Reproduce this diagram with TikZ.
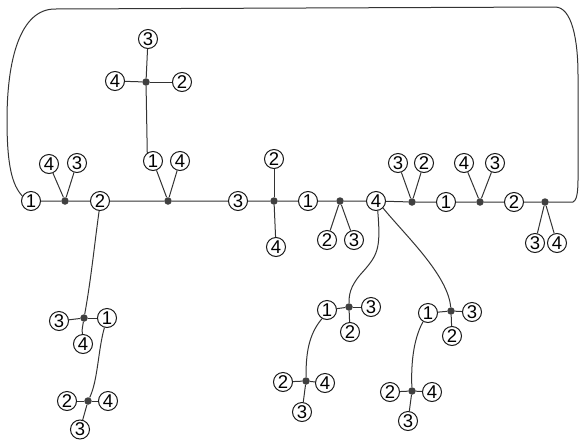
\documentclass[tikz,border=0pt]{standalone}
\usepackage{fontspec}
\setmainfont{Liberation Sans}
\begin{document}
\begin{tikzpicture}[x=1pt,y=-1pt,
  ln/.style={draw=black!80, line width=1pt},
  c/.style={circle, draw=black!90, line width=1pt, fill=white, minimum size=19pt, inner sep=0pt, font=\fontsize{18.5}{18.5}\selectfont},
  hub/.style={circle, fill=black!75, minimum size=7.5pt, inner sep=0pt}]
\useasboundingbox (0,0) rectangle (579,440);
% main line nodes
\node[c] (n1) at (31,201) {1};
\node[hub] (d1) at (65,201) {};
\node[c] (a4) at (49,164) {4};
\node[c] (a3) at (77,163) {3};
\node[c] (n2) at (100,201) {2};
\node[hub] (d2) at (168,201) {};
\node[c] (b1) at (153,161) {1};
\node[c] (b4) at (180,161) {4};
\node[hub] (t) at (146,82) {};
\node[c] (t3) at (148,39) {3};
\node[c] (t4) at (115,81) {4};
\node[c] (t2) at (182,82) {2};
\node[c] (n3) at (238,201) {3};
\node[hub] (d3) at (274,201) {};
\node[c] (c2) at (274,159) {2};
\node[c] (c4) at (276,247) {4};
\node[c] (n4) at (308,201) {1};
\node[hub] (d4) at (340,201) {};
\node[c] (e2) at (327,240) {2};
\node[c] (e3) at (354,240) {3};
\node[c] (n5) at (376,201) {4};
\node[hub] (d5) at (412,202) {};
\node[c] (f3) at (398,163) {3};
\node[c] (f2) at (424,163) {2};
\node[c] (n6) at (446,202) {1};
\node[hub] (d6) at (480,202) {};
\node[c] (g4) at (464,163) {4};
\node[c] (g3) at (495,163) {3};
\node[c] (n7) at (514,202) {2};
\node[hub] (d7) at (545,202) {};
\node[c] (h3) at (535,243) {3};
\node[c] (h4) at (557,243) {4};
\coordinate (e) at (573,202);
% lower left
\node[hub] (L) at (84,318) {};
\node[c] (L3) at (59,321) {3};
\node[c] (L1) at (107,318) {1};
\node[c] (L4) at (83,344) {4};
\node[hub] (M) at (88,401) {};
\node[c] (M2) at (67,401) {2};
\node[c] (M4) at (108,401) {4};
\node[c] (M3) at (80,429.5) {3};
% lower middle
\node[hub] (P) at (349,307) {};
\node[c] (P1) at (327,310) {1};
\node[c] (P3) at (371,307) {3};
\node[c] (P2) at (350,332) {2};
\node[hub] (Q) at (306,381) {};
\node[c] (Q2) at (283,382) {2};
\node[c] (Q4) at (325,383) {4};
\node[c] (Q3) at (302,412) {3};
\node[hub] (R) at (451,311) {};
\node[c] (R1) at (428,313) {1};
\node[c] (R3) at (472,312) {3};
\node[c] (R2) at (452,336) {2};
\node[hub] (S) at (412,391) {};
\node[c] (S2) at (390,392) {2};
\node[c] (S4) at (432,392) {4};
\node[c] (S3) at (408,421) {3};
% connectors
\draw[ln] (n1) -- (d1) -- (n2) -- (d2) -- (n3) -- (d3) -- (n4) -- (d4) -- (n5) -- (d5) -- (n6) -- (d6) -- (n7) -- (d7) -- (e);
\draw[ln] (d1) -- (a4); \draw[ln] (d1) -- (a3);
\draw[ln] (d2) -- (b1); \draw[ln] (d2) -- (b4);
\draw[ln] (b1.125) -- (t);
\draw[ln] (t) -- (t3); \draw[ln] (t) -- (t4); \draw[ln] (t) -- (t2);
\draw[ln] (d3) -- (c2); \draw[ln] (d3) -- (c4);
\draw[ln] (d4) -- (e2); \draw[ln] (d4) -- (e3);
\draw[ln] (d5) -- (f3); \draw[ln] (d5) -- (f2);
\draw[ln] (d6) -- (g4); \draw[ln] (d6) -- (g3);
\draw[ln] (d7) -- (h3); \draw[ln] (d7) -- (h4);
% big loop
\draw[ln] (n1.150) .. controls (12,185) and (7,165) .. (7,120)
  .. controls (7,60) and (20,9) .. (55,9) -- (555,7)
  .. controls (572,7) and (578,40) .. (578,75) -- (578,180)
  .. controls (578,195) and (576,201) .. (e);
% lower left branch
\draw[ln] (n2.265) .. controls (95,240) and (91,280) .. (L);
\draw[ln] (L) -- (L3); \draw[ln] (L) -- (L1);
\draw[ln] (L) .. controls (82,330) .. (L4);
\draw[ln] (L1.255) .. controls (98,350) and (98,380) .. (M);
\draw[ln] (M) -- (M2); \draw[ln] (M) -- (M4); \draw[ln] (M) -- (M3);
% lower middle branches
\draw[ln] (n5.280) .. controls (381,250) and (378,255) .. (360,275) .. controls (350,287) and (349,295) .. (P);
\draw[ln] (P) -- (P1); \draw[ln] (P) -- (P3); \draw[ln] (P) -- (P2);
\draw[ln] (P1.240) .. controls (308,335) and (306,355) .. (Q);
\draw[ln] (Q) -- (Q2); \draw[ln] (Q) -- (Q4); \draw[ln] (Q) -- (Q3);
\draw[ln] (n5.315) .. controls (405,235) and (448,275) .. (R);
\draw[ln] (R) -- (R1); \draw[ln] (R) -- (R3); \draw[ln] (R) -- (R2);
\draw[ln] (R1.240) .. controls (413,340) and (411,365) .. (S);
\draw[ln] (S) -- (S2); \draw[ln] (S) -- (S4); \draw[ln] (S) -- (S3);
\end{tikzpicture}
\end{document}
